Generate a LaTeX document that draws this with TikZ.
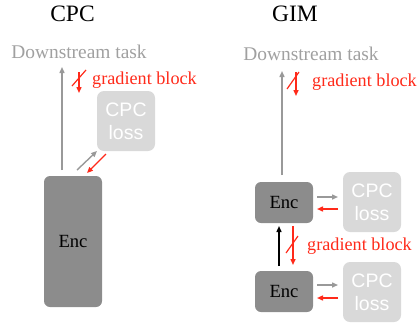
\documentclass[tikz,border=0pt]{standalone}
\usepackage{fontspec}
\setmainfont{Liberation Serif}
\newfontfamily\lossfont{Liberation Sans}
\usetikzlibrary{arrows.meta}
\definecolor{encgray}{HTML}{8C8C8C}
\definecolor{lossgray}{HTML}{D9D9D9}
\definecolor{arrgray}{HTML}{999999}
\definecolor{txtgray}{HTML}{A0A0A0}
\definecolor{gbred}{HTML}{FF2A1A}
\tikzset{
  enc/.style={fill=encgray, rounded corners=6pt, inner sep=0pt, font=\fontsize{18.6}{18.6}\selectfont},
  lossbox/.style={fill=lossgray, rounded corners=7pt, inner sep=0pt, text=white, align=center, font=\lossfont\fontsize{19.5}{23}\selectfont},
  title/.style={inner sep=0pt, font=\fontsize{23.5}{23.5}\selectfont},
  down/.style={inner sep=0pt, text=txtgray, font=\fontsize{19.4}{19.4}\selectfont},
  gbtext/.style={inner sep=0pt, text=gbred, anchor=west, font=\fontsize{18.2}{18.2}\selectfont},
  garr/.style={draw=arrgray, line width=1.4pt, -{Triangle[length=6pt,width=5pt]}},
  rarr/.style={draw=gbred, line width=1.4pt, -{Triangle[length=6pt,width=5pt]}},
  karr/.style={draw=black, line width=1.4pt, -{Triangle[length=6pt,width=5pt]}},
  slash/.style={draw=gbred, line width=1.2pt},
}
\begin{document}
\begin{tikzpicture}[x=1pt,y=-1pt]
\useasboundingbox (0,0) rectangle (419,324);
% ---------- CPC ----------
\node[title] (t1) at (72.5,13.5) {CPC};
\node[down] (d1) at (79,52) {Downstream task};
\node[enc, minimum width=58pt, minimum height=131pt] (e1) at (73,241.5) {Enc};
\node[lossbox, minimum width=58pt, minimum height=60pt] (l1) at (126,121) {CPC\\loss};
\coordinate (a1s) at (62,170);
\coordinate (a1e) at (62,67);
\draw[garr] (a1s) -- (a1e);
\coordinate (r1s) at (79,72);
\coordinate (r1e) at (79,93);
\draw[rarr] (r1s) -- (r1e);
\coordinate (s1a) at (72,86);
\coordinate (s1b) at (86,70);
\draw[slash] (s1a) -- (s1b);
\node[gbtext] (g1) at (92,80) {gradient block};
\coordinate (dg1s) at (77,170);
\coordinate (dg1e) at (97,151);
\draw[garr] (dg1s) -- (dg1e);
\coordinate (dr1s) at (106,154);
\coordinate (dr1e) at (87,173);
\draw[rarr] (dr1s) -- (dr1e);
% ---------- GIM ----------
\node[title] (t2) at (295,13.5) {GIM};
\node[down] (d2) at (311,54) {Downstream task};
\node[enc, minimum width=58pt, minimum height=41pt] (e2) at (284,202.5) {Enc};
\node[enc, minimum width=58pt, minimum height=41pt] (e3) at (284,291.5) {Enc};
\node[lossbox, minimum width=58pt, minimum height=60pt] (l2) at (372,202) {CPC\\loss};
\node[lossbox, minimum width=58pt, minimum height=60pt] (l3) at (372,292) {CPC\\loss};
\coordinate (a2s) at (282,175);
\coordinate (a2e) at (282,71);
\draw[garr] (a2s) -- (a2e);
\coordinate (r2s) at (296,72);
\coordinate (r2e) at (296,96);
\draw[rarr] (r2s) -- (r2e);
\coordinate (s2a) at (287,89);
\coordinate (s2b) at (299,72);
\draw[slash] (s2a) -- (s2b);
\node[gbtext] (g2) at (312,82) {gradient block};
\coordinate (g2s) at (317,197);
\coordinate (g2e) at (338,197);
\draw[garr] (g2s) -- (g2e);
\coordinate (rr2s) at (338,209);
\coordinate (rr2e) at (317,209);
\draw[rarr] (rr2s) -- (rr2e);
\coordinate (g3s) at (317,285);
\coordinate (g3e) at (338,285);
\draw[garr] (g3s) -- (g3e);
\coordinate (rr3s) at (338,298);
\coordinate (rr3e) at (317,298);
\draw[rarr] (rr3s) -- (rr3e);
\coordinate (k1s) at (279,266);
\coordinate (k1e) at (279,226);
\draw[karr] (k1s) -- (k1e);
\coordinate (r3s) at (293,226);
\coordinate (r3e) at (293,265);
\draw[rarr] (r3s) -- (r3e);
\coordinate (s3a) at (286,253);
\coordinate (s3b) at (298,236);
\draw[slash] (s3a) -- (s3b);
\node[gbtext] (g3) at (307,246) {gradient block};
\end{tikzpicture}
\end{document}
